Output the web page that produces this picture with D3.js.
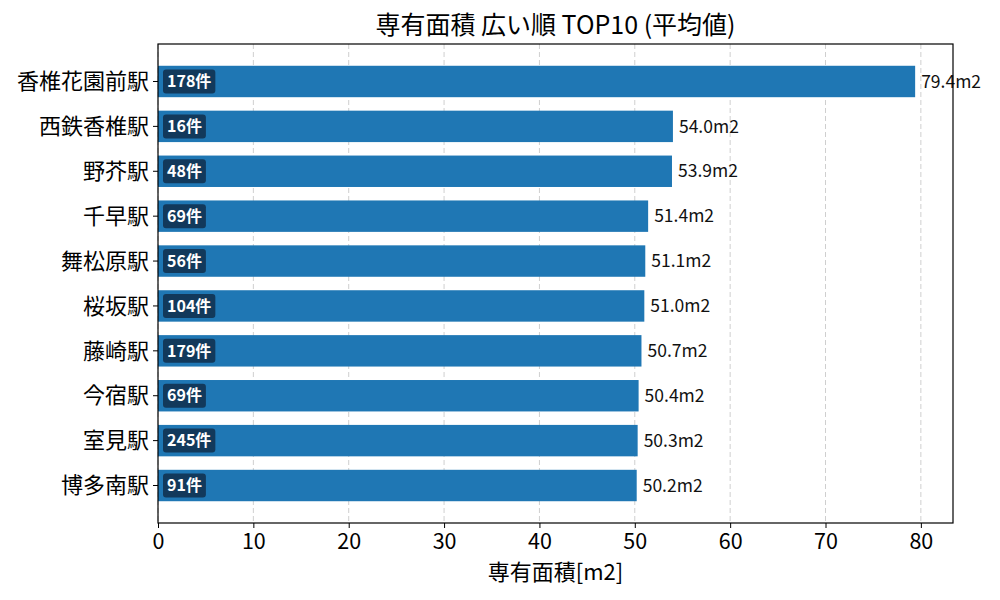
<!DOCTYPE html>
<html>
<head>
<meta charset="utf-8">
<script src="https://cdn.jsdelivr.net/npm/d3@7"></script>
<style>
  body { margin: 0; background: #fff; }
  svg { font-family: "Noto Sans CJK JP", "Noto Sans", sans-serif; }
</style>
</head>
<body>
<svg id="chart" width="1000" height="600"></svg>
<script>
// station names, sorted by average floor area
const stations = ['香椎花園前駅', '西鉄香椎駅', '野芥駅', '千早駅', '舞松原駅', '桜坂駅', '藤崎駅', '今宿駅', '室見駅', '博多南駅'];
const areas = [79.4, 54.0, 53.9, 51.4, 51.1, 51.0, 50.7, 50.4, 50.3, 50.2];
const counts = [178, 16, 48, 69, 56, 104, 179, 69, 245, 91];
const xTicks = [0, 10, 20, 30, 40, 50, 60, 70, 80];

const margin = { top: 44, right: 47, bottom: 77, left: 158 };
const W = 1000, H = 600;
const w = W - margin.left - margin.right;
const h = H - margin.top - margin.bottom;

const svg = d3.select('#chart');
const g = svg.append('g').attr('transform', `translate(${margin.left},${margin.top})`);

const x = d3.scaleLinear().domain([0, d3.max(areas) * 1.05]).range([0, w]);
// matplotlib-like y: bar i centered at i, height 0.7, 5% margins
const y = d3.scaleLinear().domain([-0.835, stations.length - 1 + 0.835]).range([0, h]);
const barH = y(0.7) - y(0);

// grid
g.append('g').selectAll('line')
  .data(xTicks)
  .enter()
  .append('line')
    .attr('x1', d => x(d))
    .attr('x2', d => x(d))
    .attr('y1', 0)
    .attr('y2', h)
    .attr('stroke', '#cfcfcf')
    .attr('stroke-width', 1)
    .attr('stroke-dasharray', '5,3');

// bars
g.selectAll('.bar')
  .data(areas)
  .enter()
  .append('rect')
    .attr('class', 'bar')
    .attr('x', x(0))
    .attr('y', (d, i) => y(i) - barH / 2)
    .attr('width', d => x(d) - x(0))
    .attr('height', barH)
    .attr('fill', '#1f77b4');

// value labels
g.selectAll('.val')
  .data(areas)
  .enter()
  .append('text')
    .attr('x', d => x(d) + 6)
    .attr('y', (d, i) => y(i))
    .attr('dy', '0.35em')
    .attr('font-size', 17.5)
    .attr('fill', '#111')
    .text(d => d.toFixed(1) + 'm2');

// count badges
const badges = g.selectAll('.badge')
  .data(counts)
  .enter()
  .append('g')
    .attr('class', 'badge')
    .attr('transform', (d, i) => `translate(${x(0) + 5},${y(i)})`);

badges.append('text')
  .attr('x', 4)
  .attr('dy', '0.36em')
  .attr('font-size', 16)
  .attr('font-weight', 'bold')
  .attr('fill', '#fff')
  .text(d => d + '件')
  .each(function() {
    const bb = this.getBBox();
    d3.select(this.parentNode).insert('rect', 'text')
      .attr('x', 0)
      .attr('y', -12)
      .attr('width', bb.width + 8)
      .attr('height', 24)
      .attr('rx', 3)
      .attr('fill', '#12395b');
  });

// axes
const xAxis = d3.axisBottom(x).tickValues(xTicks).tickSize(5).tickPadding(6);
const xg = g.append('g')
  .attr('transform', `translate(0,${h})`)
  .call(xAxis);
xg.select('.domain').remove();
xg.selectAll('text').attr('font-size', 21.5).attr('fill', '#000').attr('font-family', '"Noto Sans CJK JP", sans-serif');
xg.selectAll('line').attr('stroke', '#000');

const yg = g.append('g');
yg.selectAll('line')
  .data(stations)
  .enter()
  .append('line')
    .attr('x1', -5)
    .attr('x2', 0)
    .attr('y1', (d, i) => y(i))
    .attr('y2', (d, i) => y(i))
    .attr('stroke', '#000');
yg.selectAll('text')
  .data(stations)
  .enter()
  .append('text')
    .attr('x', -9)
    .attr('y', (d, i) => y(i))
    .attr('dy', '0.35em')
    .attr('text-anchor', 'end')
    .attr('font-size', 22)
    .attr('fill', '#000')
    .text(d => d);

// frame
g.append('rect')
  .attr('width', w)
  .attr('height', h)
  .attr('fill', 'none')
  .attr('stroke', '#000')
  .attr('stroke-width', 1.2);

// title and axis label
svg.append('text')
  .attr('x', margin.left + w / 2)
  .attr('y', 34)
  .attr('text-anchor', 'middle')
  .attr('font-size', 25)
  .text('専有面積 広い順 TOP10 (平均値)');

svg.append('text')
  .attr('x', margin.left + w / 2)
  .attr('y', 580)
  .attr('text-anchor', 'middle')
  .attr('font-size', 22)
  .text('専有面積[m2]');
</script>
</body>
</html>
